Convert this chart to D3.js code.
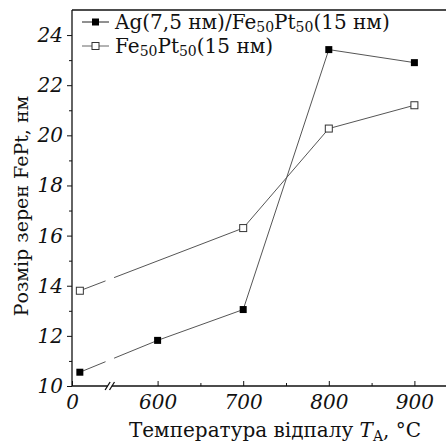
<!DOCTYPE html>
<html>
<head>
<meta charset="utf-8">
<script src="https://cdn.jsdelivr.net/npm/d3@7"></script>
<style>
  html, body { margin: 0; padding: 0; background: #fff; }
  svg { display: block; }
</style>
</head>
<body>
<div id="chart"></div>
<script>
// annealing temperature (first point = as-deposited, drawn left of the axis break)
const tempsAg = [55, 600, 700, 800, 900];
const sizeAg = [10.55, 11.82, 13.05, 23.42, 22.9];
const tempsFePt = [55, 700, 800, 900];
const sizeFePt = [13.8, 16.3, 20.27, 21.2];

const xTicks = [0, 600, 700, 800, 900];
const xMinorTicks = [650, 750, 850];
const yTicks = [10, 12, 14, 16, 18, 20, 22, 24];
const yMinorTicks = [11, 13, 15, 17, 19, 21, 23];

const FONT = '"DejaVu Serif", "Liberation Serif", serif';
const W = 446, H = 444;
const margin = { top: 10, right: 0, bottom: 58, left: 72 };

const svg = d3.select('#chart')
    .append('svg')
    .attr('width', W)
    .attr('height', H);

const plotW = W - margin.left - margin.right + 1;
const plotH = H - margin.top - margin.bottom;

// broken axis: 0..600 squeezed into the same width as 100 degrees
const unit = 85.6;
const x = d3.scaleLinear()
    .domain([0, 600, 900])
    .range([0, unit, unit * 4]);

const y = d3.scaleLinear()
    .domain([10, 25])
    .range([plotH, 0]);

const g = svg.append('g')
    .attr('transform', `translate(${margin.left},${margin.top})`);

// clip away the part of the lines under the break
const breakFrom = 235, breakTo = 295;
const defs = svg.append('defs');
const clip = defs.append('clipPath').attr('id', 'breakClip');
clip.append('rect')
    .attr('x', -20).attr('y', -20)
    .attr('width', x(breakFrom) + 20).attr('height', plotH + 40);
clip.append('rect')
    .attr('x', x(breakTo)).attr('y', -20)
    .attr('width', plotW).attr('height', plotH + 40);

// frame
g.append('line')
    .attr('x1', 0).attr('x2', plotW)
    .attr('y1', 0).attr('y2', 0)
    .attr('stroke', '#111').attr('stroke-width', 1.3);
g.append('line')
    .attr('x1', plotW).attr('x2', plotW)
    .attr('y1', 0).attr('y2', plotH)
    .attr('stroke', '#111').attr('stroke-width', 1.3);

// x axis (ticks point inward)
const xAxis = g.append('g')
    .attr('transform', `translate(0,${plotH})`)
    .call(d3.axisBottom(x).tickValues(xTicks).tickSize(-5).tickPadding(9)
        .tickFormat(d3.format('d')));
xAxis.select('.domain').remove();
xAxis.append('line')
    .attr('x1', 0).attr('x2', plotW)
    .attr('stroke', '#111').attr('stroke-width', 1.3);
xAxis.selectAll('.tick line').attr('stroke', '#111');
xAxis.selectAll('.tick text')
    .style('font-family', FONT)
    .style('font-size', '20px')
    .style('font-style', 'italic')
    .attr('fill', '#111')
    .attr('dy', '0.71em');
g.append('g')
    .attr('transform', `translate(0,${plotH})`)
    .call(d3.axisBottom(x).tickValues(xMinorTicks).tickSize(-3).tickFormat(''))
    .call(a => a.select('.domain').remove())
    .selectAll('.tick line').attr('stroke', '#111');

// axis break marks
const bx = (x(breakFrom) + x(breakTo)) / 2;
g.append('rect')
    .attr('x', bx - 2).attr('y', plotH - 2)
    .attr('width', 4).attr('height', 4)
    .attr('fill', '#fff');
[-2.2, 2.2].forEach(off => {
    g.append('line')
        .attr('x1', bx + off - 2.5).attr('y1', plotH + 4)
        .attr('x2', bx + off + 2.5).attr('y2', plotH - 4)
        .attr('stroke', '#111').attr('stroke-width', 1.3);
});

// y axis (ticks point outward)
const yAxis = g.append('g')
    .call(d3.axisLeft(y).tickValues(yTicks).tickSize(5).tickPadding(4));
yAxis.select('.domain').remove();
yAxis.append('line')
    .attr('y1', 0).attr('y2', plotH)
    .attr('stroke', '#111').attr('stroke-width', 1.3);
yAxis.selectAll('.tick line').attr('stroke', '#111');
yAxis.selectAll('.tick text')
    .style('font-family', FONT)
    .style('font-size', '20px')
    .style('font-style', 'italic')
    .attr('fill', '#111');
g.append('g')
    .call(d3.axisLeft(y).tickValues(yMinorTicks).tickSize(3).tickFormat(''))
    .call(a => a.select('.domain').remove())
    .selectAll('.tick line').attr('stroke', '#111');

// series
const line = d3.line()
    .x(d => x(d[0]))
    .y(d => y(d[1]));

const agData = tempsAg.map((t, i) => [t, sizeAg[i]]);
const fePtData = tempsFePt.map((t, i) => [t, sizeFePt[i]]);

g.append('path')
    .datum(fePtData)
    .attr('d', line)
    .attr('fill', 'none')
    .attr('stroke', '#555')
    .attr('stroke-width', 1)
    .attr('clip-path', 'url(#breakClip)');
g.append('path')
    .datum(agData)
    .attr('d', line)
    .attr('fill', 'none')
    .attr('stroke', '#555')
    .attr('stroke-width', 1)
    .attr('clip-path', 'url(#breakClip)');

const ms = 7;
g.selectAll('.open')
    .data(fePtData)
    .join('rect')
    .attr('class', 'open')
    .attr('x', d => x(d[0]) - ms / 2)
    .attr('y', d => y(d[1]) - ms / 2)
    .attr('width', ms).attr('height', ms)
    .attr('fill', '#fff')
    .attr('stroke', '#333')
    .attr('stroke-width', 1);
g.selectAll('.filled')
    .data(agData)
    .join('rect')
    .attr('class', 'filled')
    .attr('x', d => x(d[0]) - ms / 2)
    .attr('y', d => y(d[1]) - ms / 2)
    .attr('width', ms).attr('height', ms)
    .attr('fill', '#000');

// legend
const legendRows = [
    { filled: true, parts: [['Ag(7,5 нм)/Fe', 0], ['50', 1], ['Pt', 0], ['50', 1], ['(15 нм)', 0]] },
    { filled: false, parts: [['Fe', 0], ['50', 1], ['Pt', 0], ['50', 1], ['(15 нм)', 0]] }
];
const legend = svg.append('g');
legendRows.forEach((row, i) => {
    const cy = 22 + i * 24;
    legend.append('line')
        .attr('x1', 82).attr('x2', 109)
        .attr('y1', cy).attr('y2', cy)
        .attr('stroke', row.filled ? '#222' : '#666');
    legend.append('rect')
        .attr('x', 95.5 - ms / 2).attr('y', cy - ms / 2)
        .attr('width', ms).attr('height', ms)
        .attr('fill', row.filled ? '#000' : '#fff')
        .attr('stroke', row.filled ? 'none' : '#333');
    const t = legend.append('text')
        .attr('x', 115).attr('y', cy + 7)
        .style('font-family', FONT)
        .style('font-size', '20px')
        .attr('fill', '#111');
    row.parts.forEach(([s, sub]) => {
        const ts = t.append('tspan').text(s);
        if (sub) {
            ts.style('font-size', '14px').attr('baseline-shift', '-3');
        }
    });
});

// axis titles
svg.append('text')
    .attr('transform', `translate(28,206) rotate(-90)`)
    .attr('text-anchor', 'middle')
    .style('font-family', FONT)
    .style('font-size', '19px')
    .attr('fill', '#111')
    .text('Розмір зерен FePt, нм');

const xt = svg.append('text')
    .attr('x', 275)
    .attr('y', 437)
    .attr('text-anchor', 'middle')
    .style('font-family', FONT)
    .style('font-size', '20px')
    .attr('fill', '#111');
xt.append('tspan').text('Температура відпалу ');
xt.append('tspan').style('font-style', 'italic').text('T');
xt.append('tspan').style('font-size', '14px').attr('baseline-shift', '-4').text('A');
xt.append('tspan').text(', °C');
</script>
</body>
</html>
